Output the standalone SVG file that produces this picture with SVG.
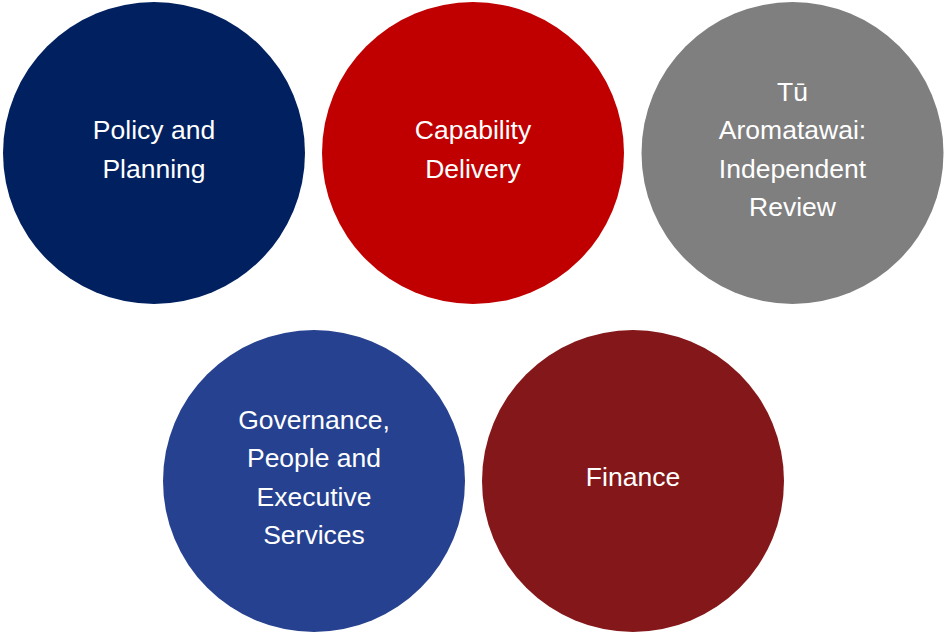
<svg xmlns="http://www.w3.org/2000/svg" width="944" height="635" viewBox="0 0 944 635">
  <style>
    .lbl { font-family: "Liberation Sans", Arial, sans-serif; font-size: 26.5px; fill: #ffffff; text-anchor: middle; }
  </style>
  <rect x="0" y="0" width="944" height="635" fill="#ffffff"/>
  <g id="connectors"></g>
  <g id="policy-planning">
    <circle cx="154" cy="153" r="151" fill="#002060"/>
    <text class="lbl" x="154" y="139">Policy and</text>
    <text class="lbl" x="154" y="178">Planning</text>
  </g>
  <g id="capability-delivery">
    <circle cx="473" cy="153" r="151" fill="#C00000"/>
    <text class="lbl" x="473" y="139">Capability</text>
    <text class="lbl" x="473" y="178">Delivery</text>
  </g>
  <g id="independent-review">
    <circle cx="792.5" cy="153" r="151" fill="#7F7F7F"/>
    <text class="lbl" x="792.5" y="100.5">Tū</text>
    <text class="lbl" x="792.5" y="139">Aromatawai:</text>
    <text class="lbl" x="792.5" y="178">Independent</text>
    <text class="lbl" x="792.5" y="216">Review</text>
  </g>
  <g id="governance-people">
    <circle cx="314" cy="481" r="151" fill="#26418F"/>
    <text class="lbl" x="314" y="429">Governance,</text>
    <text class="lbl" x="314" y="467">People and</text>
    <text class="lbl" x="314" y="506">Executive</text>
    <text class="lbl" x="314" y="544">Services</text>
  </g>
  <g id="finance">
    <circle cx="633" cy="481" r="151" fill="#841719"/>
    <text class="lbl" x="633" y="486">Finance</text>
  </g>
</svg>
